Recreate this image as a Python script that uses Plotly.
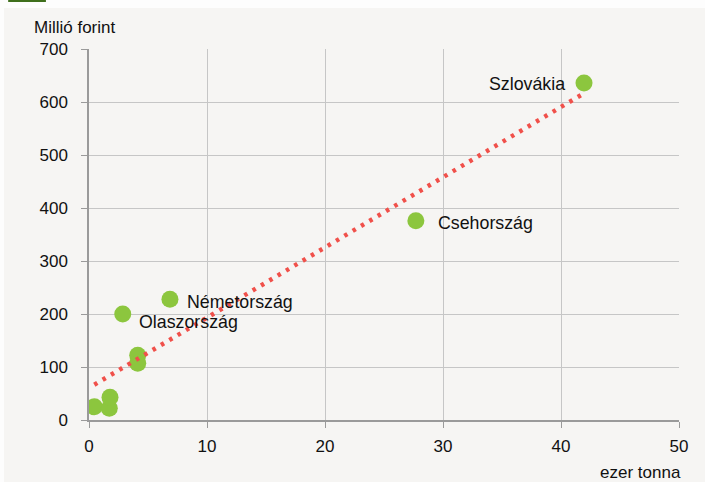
import numpy as np
import plotly.graph_objects as go

# Data
x_vals = [0.45, 1.72, 1.78, 4.13, 4.13, 2.86, 6.86, 27.7, 41.95]   # ezer tonna
y_vals = [25, 22, 43, 122, 107, 200, 228, 376, 636]                # Millió forint
labels = ["", "", "", "", "", "Olaszország", "Németország", "Csehország", "Szlovákia"]
x_ticks = [0, 10, 20, 30, 40, 50]
y_ticks = [0, 100, 200, 300, 400, 500, 600, 700]

FONT = "Liberation Sans, Arial, sans-serif"

# linear trend line computed from the data
slope, intercept = np.polyfit(x_vals, y_vals, 1)
tx = np.array([min(x_vals), max(x_vals)])
ty = slope * tx + intercept

fig = go.Figure()
fig.add_trace(go.Scatter(x=x_vals, y=y_vals, mode="markers",
                         marker=dict(color="#8cc63e", size=17, line=dict(width=0)),
                         showlegend=False))
fig.add_trace(go.Scatter(x=tx, y=ty, mode="lines",
                         line=dict(color="#f0504a", width=4.5, dash="3.5px,6.2px"),
                         hoverinfo="skip", showlegend=False))

# label placement (style only)
label_style = {
    "Olaszország": dict(xanchor="left", xshift=14, yshift=-8),
    "Németország": dict(xanchor="left", xshift=15, yshift=-3),
    "Csehország": dict(xanchor="left", xshift=20, yshift=-2),
    "Szlovákia": dict(xanchor="right", xshift=-17, yshift=-1),
}
for xv, yv, lab in zip(x_vals, y_vals, labels):
    if lab:
        fig.add_annotation(x=xv, y=yv, text=lab, showarrow=False,
                           font=dict(family=FONT, size=17.8, color="#111111"),
                           yanchor="middle", **label_style[lab])

# axis titles
fig.add_annotation(xref="paper", yref="paper", x=0, y=1, text="Millió forint",
                   showarrow=False, xanchor="left", yanchor="middle",
                   xshift=-57, yshift=22,
                   font=dict(family=FONT, size=17, color="#111111"))
fig.add_annotation(xref="paper", yref="paper", x=1, y=0, text="ezer tonna",
                   showarrow=False, xanchor="right", yanchor="middle",
                   xshift=4, yshift=-52,
                   font=dict(family=FONT, size=17, color="#111111"))

# background panel and green corner mark
fig.add_shape(type="rect", xref="paper", yref="paper", layer="below",
              x0=-0.144, x1=1.06, y0=-0.25, y1=1.1105,
              fillcolor="#f6f5f3", line=dict(width=0))
fig.add_shape(type="rect", xref="paper", yref="paper", layer="below",
              x0=-0.137, x1=-0.073, y0=1.127, y1=1.14,
              fillcolor="#3f6f1c", line=dict(width=0))

fig.update_xaxes(range=[0, 50], tickvals=x_ticks, showgrid=True,
                 gridcolor="#c6c6c6", gridwidth=1, zeroline=False,
                 showline=True, linecolor="#9a9a9a", linewidth=1.5,
                 ticks="outside", ticklen=6, tickcolor="#9a9a9a",
                 ticklabelstandoff=4,
                 tickfont=dict(family=FONT, size=17, color="#111111"))
fig.update_yaxes(range=[0, 700], tickvals=y_ticks, showgrid=True,
                 gridcolor="#c6c6c6", gridwidth=1, zeroline=False,
                 showline=True, linecolor="#9a9a9a", linewidth=1.5,
                 ticks="outside", ticklen=6, tickcolor="#9a9a9a",
                 ticklabelstandoff=10,
                 tickfont=dict(family=FONT, size=17, color="#111111"))

fig.update_layout(width=705, height=482,
                  margin=dict(l=89, r=26, t=49, b=62),
                  paper_bgcolor="#fdfdfd", plot_bgcolor="#f6f5f3",
                  font=dict(family=FONT), showlegend=False)

fig.write_html("out.html", config={"displayModeBar": False},
               post_script="document.body.style.margin='0';document.body.style.overflow='hidden';")
